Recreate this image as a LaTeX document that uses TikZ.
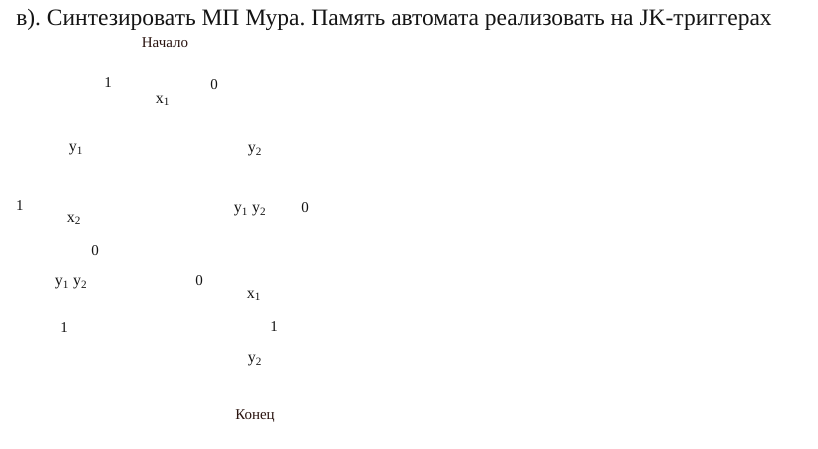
\documentclass[tikz,border=0pt]{standalone}
\usepackage{fontspec}
\setmainfont{LiberationSerif}[Extension=.ttf, UprightFont=*-Regular, BoldFont=*-Bold]
\usepackage{tikz}
\usetikzlibrary{positioning}
\definecolor{ink}{HTML}{141414}
\definecolor{termink}{HTML}{2A1410}
\tikzset{
  every node/.style={inner sep=0pt, text=ink},
  % --- texts
  ttl/.style  = {font=\fontsize{23.5}{26}\selectfont\frenchspacing},
  term/.style = {font=\fontsize{15}{17}\selectfont, text=termink},
  sig/.style  = {font=\fontsize{16}{18}\selectfont},
  bit/.style  = {font=\fontsize{15}{17}\selectfont},
}
\newcommand{\sg}[2]{#1\textsubscript{#2}}
\begin{document}
\begin{tikzpicture}[x=1pt,y=-1pt]
  \useasboundingbox (0,0) rectangle (818,448);
  \node[ttl] (title) at (394,20) {в). Синтезировать МП Мура. Память автомата реализовать на JK-триггерах};
  \node[term] (start) at (165,43) {Начало};
  % first condition
  \node[sig] (c1) at (163,101) {\sg{x}{1}};
  \node[bit] (c1t) at (108,83) {1};
  \node[bit] (c1f) at (214,85) {0};
  \node[sig] (o1) at (76,150) {\sg{y}{1}};
  \node[sig] (o2) at (255,151) {\sg{y}{2}};
  % second condition
  \node[sig] (c2) at (74,220) {\sg{x}{2}};
  \node[bit] (c2t) at (20,206) {1};
  \node[bit] (c2f) at (95,251) {0};
  \node[sig] (o3) at (250,211) {\sg{y}{1} \sg{y}{2}};
  \node[bit] (o3f) at (305,208) {0};
  \node[sig] (o4) at (71,284) {\sg{y}{1} \sg{y}{2}};
  \node[bit] (o4f) at (199,281) {0};
  \node[bit] (o4t) at (64,328) {1};
  % third condition
  \node[sig] (c3) at (254,296) {\sg{x}{1}};
  \node[bit] (c3t) at (274,327) {1};
  \node[sig] (o5) at (255,361) {\sg{y}{2}};
  \node[term] (stop) at (255,416) {Конец};
\end{tikzpicture}
\end{document}
